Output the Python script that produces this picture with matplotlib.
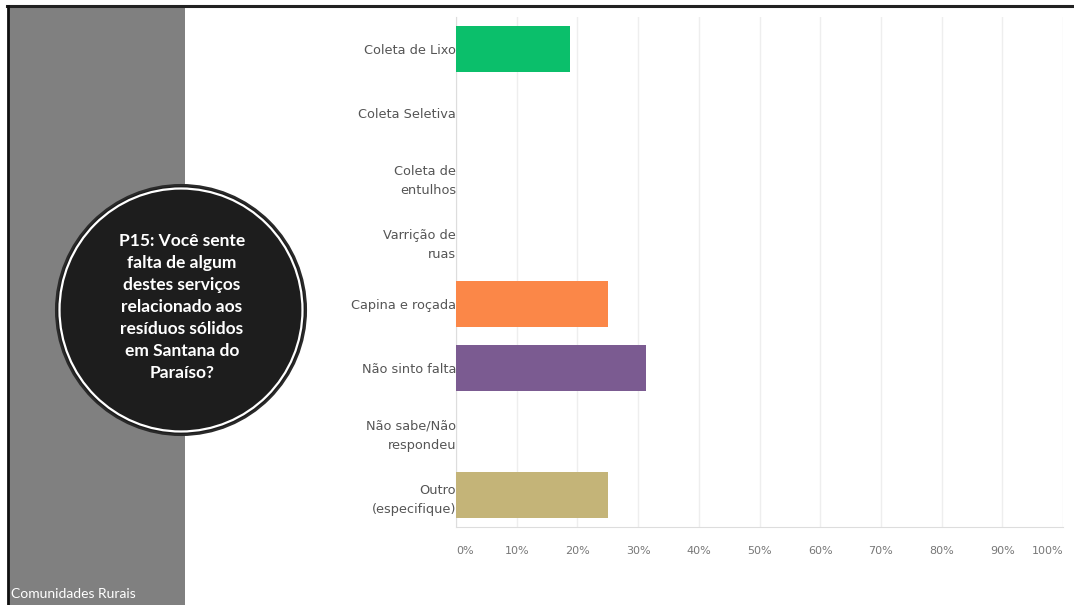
import matplotlib
matplotlib.use("Agg")
import matplotlib.pyplot as plt
from matplotlib.patches import Circle, Rectangle
import numpy as np

# survey answers (share of respondents, %)
categories = ["Coleta de Lixo", "Coleta Seletiva", "Coleta de\nentulhos",
              "Varrição de\nruas", "Capina e roçada", "Não sinto falta",
              "Não sabe/Não\nrespondeu", "Outro\n(especifique)"]
values = [18.75, 0, 0, 0, 25, 31.25, 0, 25]
colors = ["#0bbf6b", "#0bbf6b", "#0bbf6b", "#0bbf6b", "#fb8748", "#7b5b91",
          "#c4b478", "#c4b478"]
x_ticks = [0, 10, 20, 30, 40, 50, 60, 70, 80, 90, 100]
x_labels = [f"{t}%" for t in x_ticks]

question = ("P15: Você sente\nfalta de algum\ndestes serviços\nrelacionado aos\n"
            "resíduos sólidos\nem Santana do\nParaíso?")
panel_title = "Comunidades Rurais"

W, H = 1074, 605
fig = plt.figure(figsize=(W / 100, H / 100), dpi=100)

# background layer in pixel units
bg = fig.add_axes([0, 0, 1, 1])
bg.set_xlim(0, W)
bg.set_ylim(H, 0)
bg.axis("off")
bg.add_patch(Rectangle((8, 6), 177, H, facecolor="#808080", edgecolor="none"))
bg.plot([7, W], [6, 6], color="#222222", lw=2.2)
bg.plot([7.5, 7.5], [6, H], color="#111111", lw=2)
bg.add_patch(Circle((181, 310), 125, facecolor="#1d1d1d", edgecolor="#2a2a2a", lw=1.5))
bg.add_patch(Circle((181, 310), 121.5, facecolor="none", edgecolor="white", lw=1.6))
bg.text(182, 307, question, color="white", fontsize=12.5, fontweight="bold",
        family="Lato", ha="center", va="center", linespacing=1.45)
bg.text(11, 594, panel_title, color="white", fontsize=10, family="Lato",
        ha="left", va="center")

# bar chart
ax = fig.add_axes([456 / W, 1 - 527 / H, 607 / W, 510 / H])
ax.set_facecolor("none")
y = np.arange(len(categories))
ax.barh(y, values, height=0.72, color=colors, zorder=3)
ax.set_ylim(len(categories) - 0.5, -0.5)
ax.set_xlim(0, 100)
ax.set_yticks(y)
ax.set_yticklabels(categories, fontsize=9.3, color="#555555", family="DejaVu Sans",
                   linespacing=1.65)
ax.set_xticks(x_ticks)
ax.set_xticklabels(x_labels, fontsize=8, color="#777777")
ax.tick_params(axis="y", length=0, pad=0)
ax.tick_params(axis="x", length=0, pad=14)
xt = ax.get_xticklabels()
xt[0].set_ha("left")
xt[-1].set_ha("right")
ax.grid(axis="x", color="#eeeeee", lw=1, zorder=0)
for s in ["top", "right"]:
    ax.spines[s].set_visible(False)
ax.spines["left"].set_color("#dddddd")
ax.spines["bottom"].set_color("#dddddd")

fig.savefig("out.png", dpi=100)
